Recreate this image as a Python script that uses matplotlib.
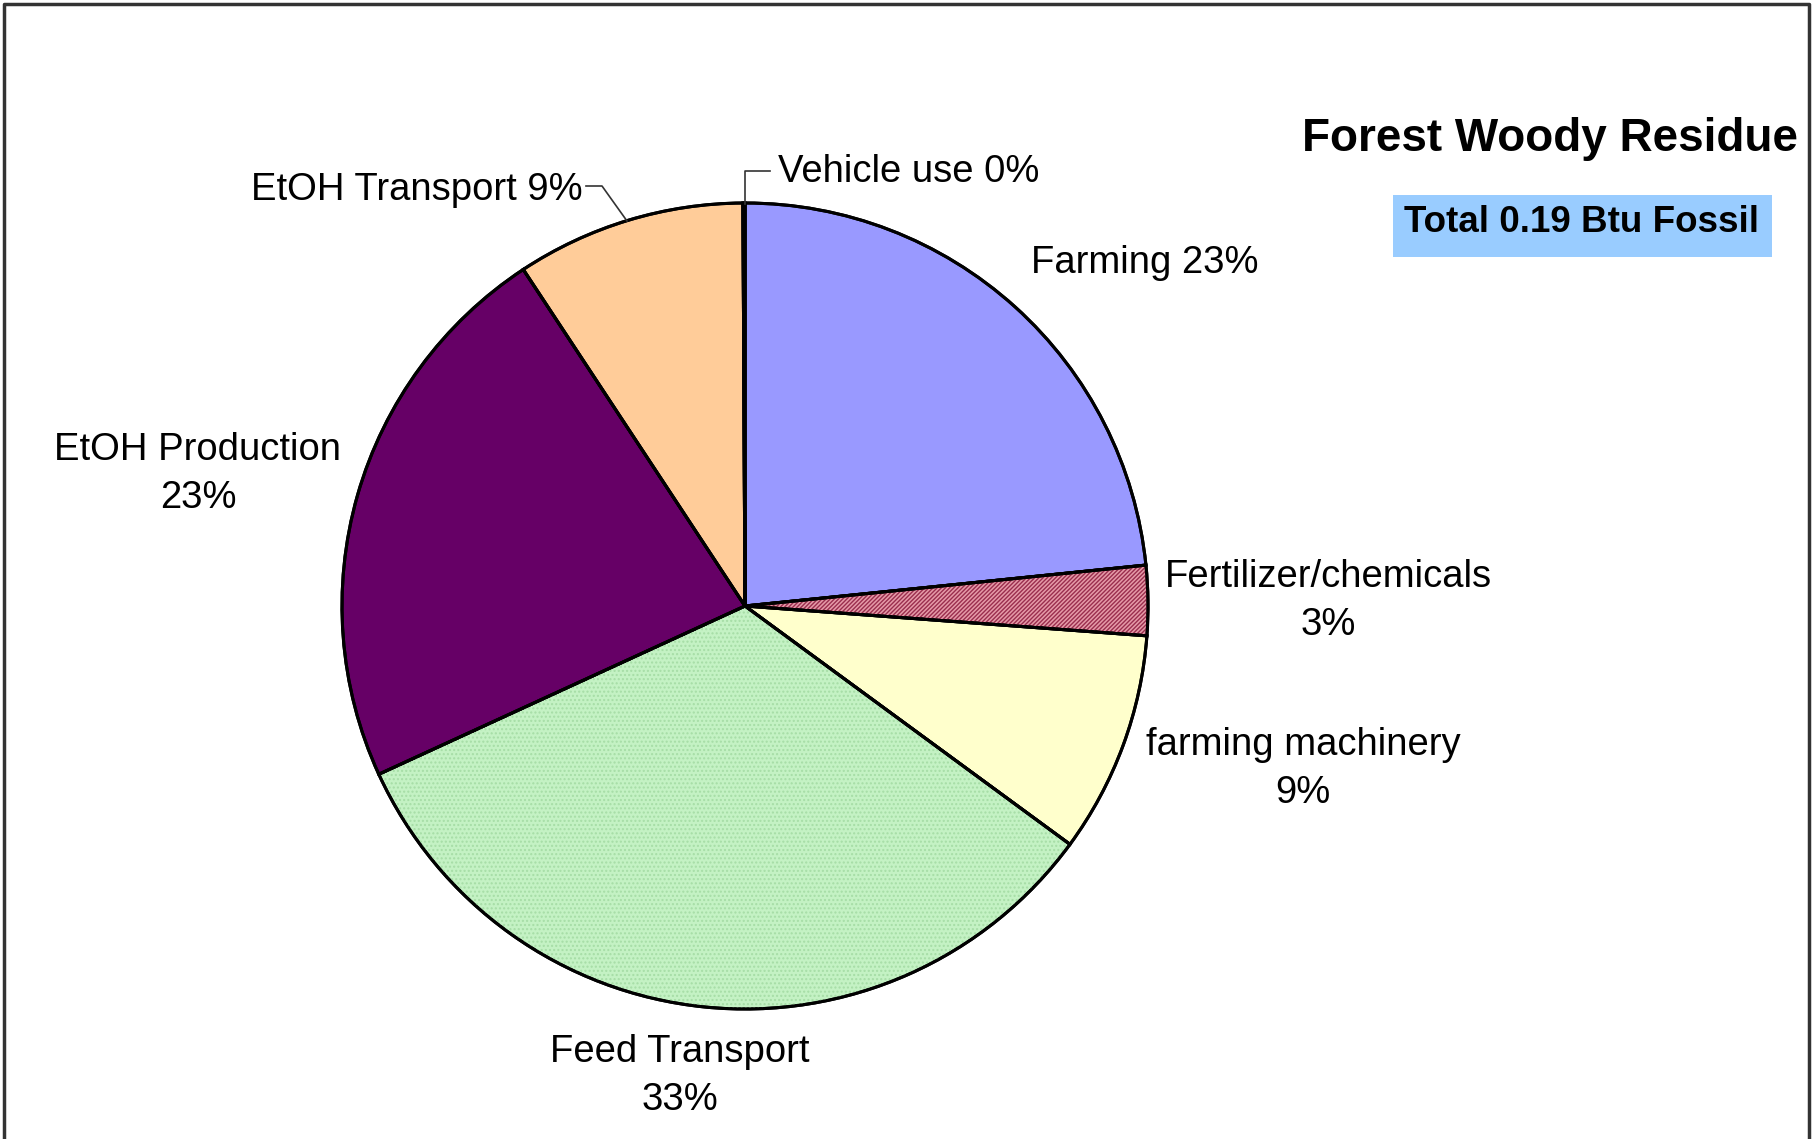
"""Forest Woody Residue fossil energy breakdown pie chart.

Writes out.png
"""

import matplotlib
matplotlib.use("Agg")
import matplotlib.pyplot as plt
import matplotlib.patches as mpatches

plt.rcParams["font.family"] = ["Liberation Sans", "DejaVu Sans"]

# Slices, clockwise from 12 o'clock (percent of total fossil energy).
CATEGORIES = ["Farming", "Fertilizer/chemicals", "farming machinery",
              "Feed Transport", "EtOH Production", "EtOH Transport", "Vehicle use"]
SHARES = [23.4, 2.8, 8.9, 33.1, 22.6, 9.2, 0.08]
COLORS = ["#9999FF", "#E59AA8", "#FFFFCC", "#C4F2C4", "#660066", "#FFCC99", "#FFFFFF"]

TITLE = "Forest Woody Residue"
TOTAL_NOTE = "Total 0.19 Btu Fossil"

W, H = 1816, 1139
CX, CY, R = 745, H - 606, 403


def pct(v):
    return f"{round(v):.0f}%"


def main():
    fig = plt.figure(figsize=(W / 100, H / 100), dpi=100)
    ax = fig.add_axes([0, 0, 1, 1])

    wedges, _ = ax.pie(SHARES, colors=COLORS, startangle=90, counterclock=False,
                       center=(CX, CY), radius=R,
                       wedgeprops=dict(edgecolor="black", linewidth=2.2))
    ax.set_xlim(0, W)
    ax.set_ylim(0, H)
    ax.axis("off")

    # Fertilizer slice: dark red diagonal hatch over pink.
    w = wedges[1]
    ax.add_patch(mpatches.Wedge(w.center, w.r, w.theta1, w.theta2, facecolor="none",
                                edgecolor="#9A2E4E", hatch="////////", linewidth=0))
    # Feed Transport: fine dotted texture.
    w = wedges[3]
    ax.add_patch(mpatches.Wedge(w.center, w.r, w.theta1, w.theta2, facecolor="none",
                                edgecolor="#A6DDA6", hatch="....", linewidth=0))
    for w in wedges:
        ax.add_patch(mpatches.Wedge(w.center, w.r, w.theta1, w.theta2, facecolor="none",
                                    edgecolor="black", linewidth=2.2))

    fs = 27.5
    ls = 1.45
    ax.text(1031, H - 263, f"{CATEGORIES[0]} {pct(SHARES[0])}", fontsize=fs,
            ha="left", va="center")
    ax.text(1328, H - 601, f"{CATEGORIES[1]}\n{pct(SHARES[1])}", fontsize=fs,
            ha="center", va="center", linespacing=ls)
    ax.text(1303, H - 769, f"{CATEGORIES[2]}\n{pct(SHARES[2])}", fontsize=fs,
            ha="center", va="center", linespacing=ls)
    ax.text(680, H - 1076, f"{CATEGORIES[3]}\n{pct(SHARES[3])}", fontsize=fs,
            ha="center", va="center", linespacing=ls)
    ax.text(198, H - 474, f"{CATEGORIES[4]}\n{pct(SHARES[4])}", fontsize=fs,
            ha="center", va="center", linespacing=ls)
    ax.text(583, H - 190, f"{CATEGORIES[5]} {pct(SHARES[5])}", fontsize=fs,
            ha="right", va="center")
    ax.text(778, H - 172, f"{CATEGORIES[6]} {pct(SHARES[6])}", fontsize=fs,
            ha="left", va="center")

    # Leader lines for the two small top labels.
    ax.plot([745, 745, 770], [H - 204, H - 171, H - 171], color="#333333", lw=1.2)
    ax.plot([586, 602, 627], [H - 186, H - 186, H - 221], color="#333333", lw=1.2)

    ax.text(1798, H - 139, TITLE, fontsize=33, fontweight="bold", ha="right", va="center")
    ax.add_patch(mpatches.Rectangle((1393, H - 257), 379, 62, facecolor="#99CCFF",
                                    edgecolor="none"))
    ax.text(1581, H - 223, TOTAL_NOTE, fontsize=26.5, fontweight="bold",
            ha="center", va="center")

    # Outer frame (bottom edge falls off the canvas).
    ax.plot([4, 4, 1809, 1809], [0, H - 4, H - 4, 0], color="#333333", lw=2.5)

    fig.savefig("out.png", dpi=100)
    plt.close(fig)


if __name__ == "__main__":
    main()
